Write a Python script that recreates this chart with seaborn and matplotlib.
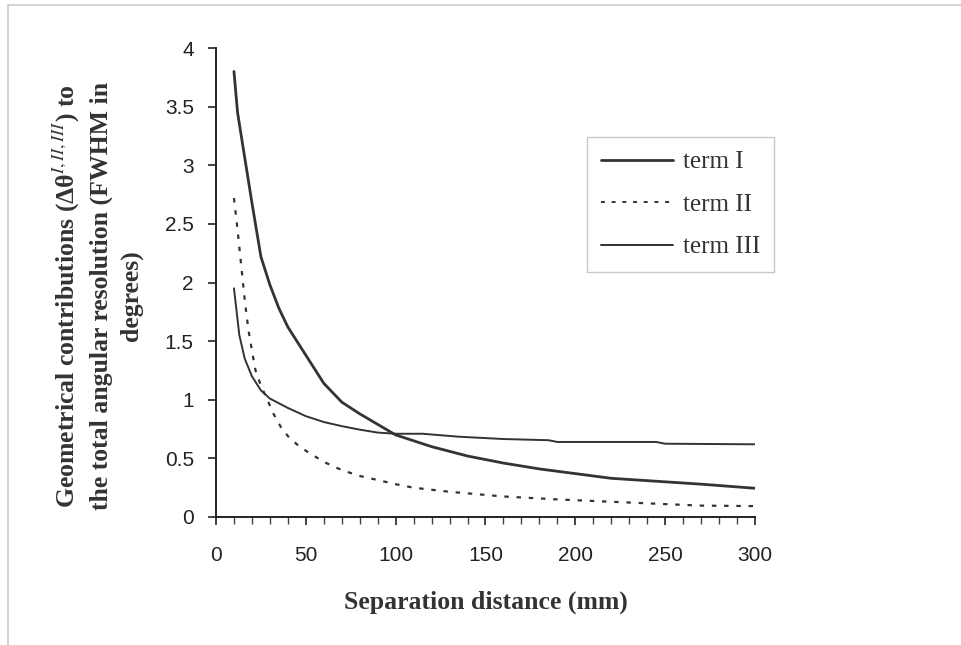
import numpy as np
import pandas as pd
import matplotlib
matplotlib.use("Agg")
import matplotlib.pyplot as plt
import seaborn as sns
from matplotlib.lines import Line2D
from matplotlib.ticker import MultipleLocator

# ---- data ----
x_term1 = [10, 12, 15, 20, 25, 30, 35, 40, 45, 50, 60, 70, 80, 90, 100,
           120, 140, 160, 180, 200, 220, 250, 270, 300]
y_term1 = [3.80, 3.45, 3.16, 2.68, 2.22, 1.98, 1.78, 1.62, 1.50, 1.38, 1.14,
           0.98, 0.88, 0.79, 0.70, 0.60, 0.52, 0.46, 0.41, 0.37, 0.33, 0.30,
           0.28, 0.245]

x_term2 = [10, 12, 14, 16, 18, 20, 22, 25, 28, 32, 36, 40, 45, 50, 60, 70,
           80, 90, 100, 110, 130, 160, 190, 220, 250, 270, 300]
y_term2 = [2.72, 2.45, 2.15, 1.85, 1.60, 1.42, 1.25, 1.12, 1.02, 0.88, 0.77,
           0.69, 0.62, 0.565, 0.47, 0.40, 0.35, 0.315, 0.28, 0.25, 0.215,
           0.175, 0.15, 0.13, 0.11, 0.097, 0.093]

x_term3 = [10, 13, 16, 20, 25, 30, 40, 50, 60, 70, 80, 90, 100, 115, 135,
           160, 185, 190, 245, 250, 300]
y_term3 = [1.95, 1.55, 1.35, 1.20, 1.08, 1.01, 0.93, 0.86, 0.81, 0.775,
           0.745, 0.72, 0.71, 0.71, 0.685, 0.665, 0.655, 0.64, 0.64, 0.625,
           0.62]

labels = ["term I", "term II", "term III"]
x_ticks = [0, 50, 100, 150, 200, 250, 300]
y_ticks = [0, 0.5, 1, 1.5, 2, 2.5, 3, 3.5, 4]

sns.set_style("ticks")
plt.rcParams["font.family"] = ["Liberation Sans", "DejaVu Sans"]
plt.rcParams["mathtext.fontset"] = "stix"

fig = plt.figure(figsize=(9.62, 6.45), dpi=100)
ax = fig.add_axes([216 / 962, 1 - 517 / 645, (755 - 216) / 962, (517 - 48) / 645])

c = "#333333"
sns.lineplot(x=x_term1, y=y_term1, ax=ax, color=c, lw=2.0)
sns.lineplot(x=x_term2, y=y_term2, ax=ax, color=c, lw=1.6)
ax.lines[-1].set_dashes([2, 3.5])
sns.lineplot(x=x_term3, y=y_term3, ax=ax, color=c, lw=1.4)

ax.set_xlim(0, 300)
ax.set_ylim(0, 4)
ax.set_xticks(x_ticks)
ax.set_xticklabels([str(v) for v in x_ticks])
ax.set_yticks(y_ticks)
ax.set_yticklabels([f"{v:g}" for v in y_ticks])
ax.xaxis.set_minor_locator(MultipleLocator(10))
ax.tick_params(axis="both", which="major", labelsize=15, colors="#222222",
               length=6, width=1.2, direction="out", pad=10)
ax.tick_params(axis="x", which="major", pad=15)
ax.tick_params(axis="x", which="minor", length=5, width=1.0, colors="#444444",
               direction="out")
for s in ["top", "right"]:
    ax.spines[s].set_visible(False)
for s in ["left", "bottom"]:
    ax.spines[s].set_color("#222222")
    ax.spines[s].set_linewidth(1.4)
ax.set_xlabel("")
ax.set_ylabel("")

fig.text(486 / 962, 1 - 602 / 645, "Separation distance (mm)",
         ha="center", va="center", family="Liberation Serif",
         fontweight="bold", fontsize=18.5, color="#333333")

ylab = ("Geometrical contributions (Δθ$^{I,II,III}$) to\n"
        "the total angular resolution (FWHM in\n"
        "degrees)")
fig.text(97 / 962, 1 - 296 / 645, ylab, rotation=90, ha="center", va="center",
         family=["Liberation Serif", "DejaVu Serif"], fontweight="bold",
         fontsize=18.5, color="#333333", linespacing=1.4,
         multialignment="center")

handles = [Line2D([], [], color=c, lw=2.0),
           Line2D([], [], color=c, lw=1.4, dashes=[2, 3.5]),
           Line2D([], [], color=c, lw=1.4)]
leg = fig.legend(handles, labels, loc="upper left",
                 bbox_to_anchor=(587 / 962, 1 - 137 / 645),
                 prop={"family": "Liberation Serif", "size": 18},
                 frameon=True, fancybox=False, handlelength=2.9,
                 labelspacing=0.8, borderpad=0.55, handletextpad=0.4,
                 borderaxespad=0)
leg.get_frame().set_edgecolor("#bbbbbb")
leg.get_frame().set_linewidth(1.0)
for t in leg.get_texts():
    t.set_color("#333333")

# faint page border (top and left)
fig.add_artist(Line2D([8 / 962, 1], [1 - 5 / 645, 1 - 5 / 645],
                      transform=fig.transFigure, color="#cccccc", lw=1.2))
fig.add_artist(Line2D([8 / 962, 8 / 962], [0, 1 - 5 / 645],
                      transform=fig.transFigure, color="#cccccc", lw=1.2))

fig.savefig("out.png", dpi=100, facecolor="white")
